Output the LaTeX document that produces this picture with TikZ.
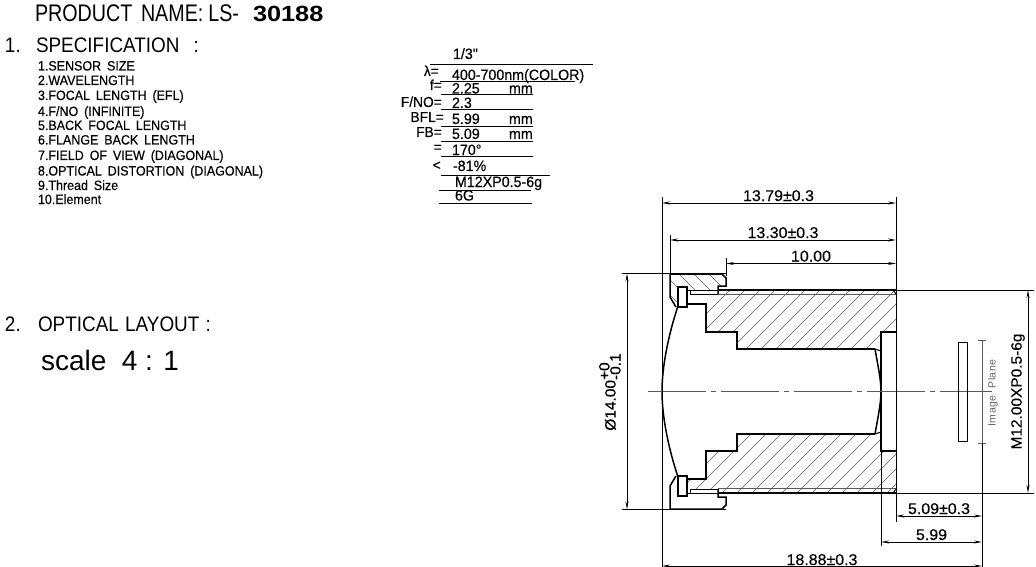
\documentclass[tikz,border=0pt]{standalone}
\usepackage{fontspec}
\usetikzlibrary{arrows.meta}
\setmainfont{Liberation Sans}
\newfontfamily\cad[FakeStretch=0.925,WordSpace=1.7,FakeBold=0.35]{Liberation Sans}
\newfontfamily\cadh[FakeStretch=0.9,WordSpace=1.2]{Liberation Sans}
\newfontfamily\cadn[FakeStretch=0.82,WordSpace=1.6]{Liberation Sans}
\newfontfamily\cadb[FakeStretch=1.15]{Liberation Sans Bold}
\newfontfamily\cadm[FakeStretch=0.95,WordSpace=1.2,FakeBold=0.25]{Liberation Sans}
\newfontfamily\cadd[FakeStretch=1.03,WordSpace=1.2,FakeBold=0.25]{Liberation Sans}
\newfontfamily\cadi[LetterSpace=5,WordSpace=2]{Liberation Sans}
\newcommand\fsz[1]{\fontsize{#1}{#1}\selectfont}
\tikzset{
  txt/.style={inner sep=0pt,outer sep=0pt,anchor=base west,font=\cad\fsz{13.5}},
  headtxt/.style={txt,font=\cadh\fsz{21}},
  midtxt/.style={txt,font=\cadm\fsz{15}},
  eqtxt/.style={inner sep=0pt,anchor=base east,font=\cadm\fsz{14.5}},
  dimtxt/.style={inner sep=0pt,anchor=base,font=\cadd\fsz{15.5}},
  rule/.style={line width=1pt,black},
  part/.style={line width=1.5pt,black,line join=miter},
  ext/.style={line width=1pt,black},
  dim/.style={line width=1pt,black,{Stealth[length=8pt,width=3pt]}-{Stealth[length=8pt,width=3pt]}},
  hatch/.style={line width=.45pt,black!65},
  thin/.style={line width=.5pt,black!65},
  mirror/.style={shift={(0,783)},yscale=-1}
}
\newcommand\ringpoly{(670,274)--(722,274)--(726,278)--(726,286)--(718,286)--(718,290)--(687,290)--(687,287)--(678,287)--(678,307)--(676,307)--(670,297)--cycle}
\newcommand\barrelpoly{(688,294)--(718,294)--(718,290)--(892,290)--(896,294)--(896,332)--(881,332)--(881,351)--(875,349)--(737,349)--(737,332)--(706,332)--(706,304)--(688,304)--cycle}
\newcommand\halfbody{%
  \begin{scope}
    \clip \barrelpoly;
    \begin{scope}[reset cm]
      \foreach \x in {500,515,...,900} \draw[hatch] (\x,520)--++(260,-260);
    \end{scope}
  \end{scope}
  \begin{scope}
    \clip \ringpoly;
    \begin{scope}[reset cm]
      \foreach \x in {620,635,...,740} \draw[hatch] (\x,260)--++(260,260);
    \end{scope}
  \end{scope}
  \draw[part] (670,274)--(722,274)--(726,278)--(726,286)--(718,286)--(718,294);
  \draw[part] (670,274)--(670,297)--(676,307);
  \draw[part] (678,307)--(678,287)--(687,287)--(687,307)--cycle;
  \draw[line width=1pt] (687,290)--(718,290);
  \draw[line width=1pt] (690,290)--(690,294)--(718,294);
  \draw[thin] (718,294.5)--(896,294.5);
  \draw[part] (687,304)--(706,304)--(706,332)--(737,332)--(737,349)--(875,349);
  \draw[line width=1pt] (875,349)--(881,351);
  \draw[part] (881,391)--(881,332)--(896,332);
  \draw[line width=1pt] (893,290)--(896,294);
  \draw[part] (678,306) .. controls (669,333) and (662,365) .. (662,391.5);
  \draw[part] (875,349) .. controls (878,366) and (881,380) .. (881,391.5);
}
\begin{document}
\begin{tikzpicture}[x=1pt,y=-1pt]
\useasboundingbox (0,0) rectangle (1036,567);
% ---------- header
\node[txt,font=\cadn\fsz{24}] (title) at (35,22) {PRODUCT NAME:\hspace{5pt}LS-};
\node[txt,font=\cadb\fsz{22}] (code) at (253,22) {30188};
\node[headtxt] (n1) at (5,53) {1.};
\node[headtxt] (spec) at (36,53) {SPECIFICATION\hspace{14pt}:};
\node[txt] (l1) at (38,70.5) {1.SENSOR SIZE};
\node[txt] (l2) at (38,85) {2.WAVELENGTH};
\node[txt] (l3) at (38,100) {3.FOCAL LENGTH (EFL)};
\node[txt] (l4) at (38,116) {4.F/NO (INFINITE)};
\node[txt] (l5) at (38,130) {5.BACK FOCAL LENGTH};
\node[txt] (l6) at (38,144.5) {6.FLANGE BACK LENGTH};
\node[txt] (l7) at (38,160) {7.FIELD OF VIEW (DIAGONAL)};
\node[txt] (l8) at (38,175.5) {8.OPTICAL DISTORTION (DIAGONAL)};
\node[txt] (l9) at (38,190) {9.Thread Size};
\node[txt] (l10) at (38,204) {10.Element};
% ---------- values
\node[midtxt] (v1) at (453,59) {1/3"};
\draw[rule] (430,64.7)--(593,64.7);
\node[eqtxt] (e2) at (439,76) {λ=};
\node[midtxt] (v2) at (452,80) {400-700nm(COLOR)};
\draw[rule] (440,82)--(575,82);
\node[eqtxt] (e3) at (442,90) {f=};
\node[midtxt] (v3) at (452,93.5) {2.25};
\node[midtxt] (u3) at (509,93.5) {mm};
\draw[rule] (441,94.5)--(533,94.5);
\node[eqtxt] (e4) at (442,107) {F/NO=};
\node[midtxt] (v4) at (452,108) {2.3};
\draw[rule] (441,110)--(533,110);
\node[eqtxt] (e5) at (444,122) {BFL=};
\node[midtxt] (v5) at (452,124) {5.99};
\node[midtxt] (u5) at (509,124) {mm};
\draw[rule] (441,127)--(533,127);
\node[eqtxt] (e6) at (442,137) {FB=};
\node[midtxt] (v6) at (452,139) {5.09};
\node[midtxt] (u6) at (509,139) {mm};
\draw[rule] (441,142)--(533,142);
\node[eqtxt] (e7) at (442,152) {=};
\node[midtxt] (v7) at (452,155) {170°};
\draw[rule] (441,157)--(533,157);
\node[eqtxt] (e8) at (441,170) {<};
\node[midtxt] (v8) at (453,171) {-81\%};
\draw[rule] (441,175)--(550,175);
\node[midtxt] (v9) at (455,187) {M12XP0.5-6g};
\draw[rule] (439,190)--(531,190);
\node[midtxt] (v10) at (455,200.5) {6G};
\draw[rule] (439,203)--(532,203);
% ---------- layout heading
\node[headtxt] (n2) at (5,331) {2.};
\node[headtxt] (lay) at (38,331) {OPTICAL LAYOUT :};
\node[txt,font=\fsz{28}] (scale) at (41,370) {scale\ \ 4 : 1};
% ---------- lens body
\begin{scope}\halfbody\end{scope}
\begin{scope}[mirror]\halfbody\end{scope}
% axis
\draw[thin,dash pattern=on 58pt off 5pt on 5pt off 5pt] (648,391.5)--(992,391.5);
% sensor and image plane
\draw[line width=1pt] (958,342) rectangle (967,441);
\draw[thin,line width=.7pt] (982,340)--(982,443);
\draw[thin,line width=.7pt] (978,340)--(986,340) (978,443)--(986,443);
\node[inner sep=0pt,rotate=90,font=\cadi\fsz{10.5},black!60] (ip) at (993,393) {Image Plane};
% ---------- extension lines
\coordinate (xa) at (662,197);  \coordinate (xab) at (662,567);
\coordinate (xb) at (670,235);  \coordinate (xbb) at (670,274);
\coordinate (xc) at (726,258);  \coordinate (xcb) at (726,276);
\coordinate (xd) at (896,197);  \coordinate (xdb) at (896,522);
\coordinate (xe) at (881,450);  \coordinate (xeb) at (881,546);
\coordinate (xf) at (982,443);  \coordinate (xfb) at (982,567);
\draw[ext] (xa)--(xab) (xb)--(xbb) (xc)--(xcb) (xd)--(xdb) (xe)--(xeb) (xf)--(xfb);
\coordinate (ht) at (622,273.5); \coordinate (hte) at (726,273.5);
\coordinate (hb) at (622,509.5); \coordinate (hbe) at (726,509.5);
\coordinate (mt) at (718,290);   \coordinate (mte) at (1034,290);
\coordinate (mb) at (718,493);   \coordinate (mbe) at (1034,493);
\draw[ext] (ht)--(hte) (hb)--(hbe);
\draw[part] (mt)--(896,290) (mb)--(896,493);
\draw[ext] (896,290)--(mte) (896,493)--(mbe);
% ---------- dimensions
\draw[dim] (662,203)--(896,203);
\node[dimtxt] (d1) at (778.5,201) {13.79±0.3};
\draw[dim] (670,240)--(896,240);
\node[dimtxt] (d2) at (783,238) {13.30±0.3};
\draw[dim] (726,263.5)--(896,263.5);
\node[dimtxt] (d3) at (811,261.5) {10.00};
\draw[dim] (896,516)--(982,516);
\node[dimtxt] (d4) at (939,514) {5.09±0.3};
\draw[dim] (881,542)--(982,542);
\node[dimtxt] (d5) at (931.5,540) {5.99};
\draw[dim] (662,566)--(982,566);
\node[dimtxt] (d6) at (822,565) {18.88±0.3};
\draw[dim] (627,273.5)--(627,509.5);
\draw[dim] (1028,290)--(1028,493);
\node[inner sep=0pt,rotate=90,font=\cadd\fsz{15}] (d7) at (1018,391.5) {M12.00XP0.5-6g};
\node[inner sep=0pt,rotate=90,font=\cadd\fsz{15}] (d8) at (612,392) {Ø14.00\begin{tabular}[c]{@{}l@{}}+0\\[-4pt]-0.1\end{tabular}};
\end{tikzpicture}
\end{document}
